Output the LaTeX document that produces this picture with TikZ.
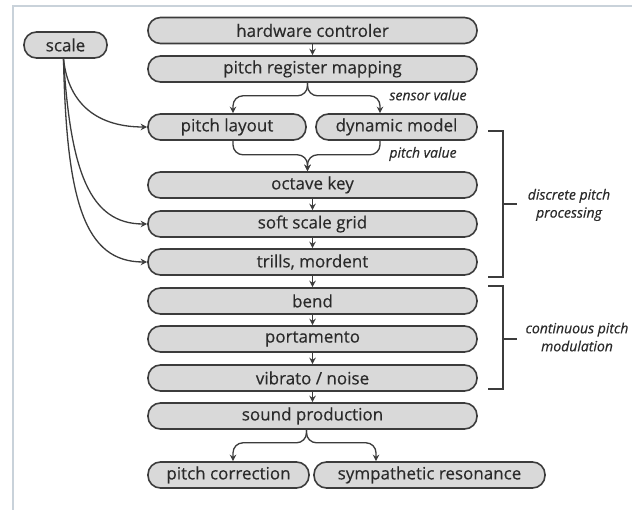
\documentclass[tikz,border=0pt]{standalone}
\usepackage{fontspec}
\setmainfont{Open Sans}
\newfontfamily\boxfont{Open Sans}[FakeBold=0.35]
\newfontfamily\labfont{Open Sans Italic}[FakeBold=0.25]
\usetikzlibrary{arrows.meta}
\definecolor{boxfill}{HTML}{D9D9D9}
\definecolor{boxline}{HTML}{3C3C3C}
\definecolor{txt}{HTML}{2A2A2A}
\definecolor{framec}{HTML}{C9D2DA}
\begin{document}
\begin{tikzpicture}[x=1pt,y=-1pt,
 box/.style={draw=boxline, fill=boxfill, line width=1.6pt, rounded corners=12.5pt, minimum height=26pt, inner sep=0pt, text=txt, font=\boxfont\fontsize{17}{18}\selectfont},
 wide/.style={box, minimum width=329pt},
 conn/.style={draw=boxline, line width=1.3pt, -{Stealth[length=6.5pt,width=6.5pt]}},
 lab/.style={text=txt, font=\labfont\fontsize{14}{18}\selectfont, align=center},
 brk/.style={draw=boxline, line width=1.6pt}]
\useasboundingbox[fill=white] (0,0) rectangle (632,510);
\draw[framec, line width=2pt] (632,6) -- (13,6) -- (13,510);

\node[wide] (hw) at (312.5,30.5) {hardware controler};
\node[wide] (prm) at (312.5,69) {pitch register mapping};
\node[box, minimum width=158pt] (pl) at (227,127) {pitch layout};
\node[box, minimum width=161pt] (dm) at (396.5,127) {dynamic model};
\node[wide] (ok) at (312.5,185) {octave key};
\node[wide] (ssg) at (312.5,224) {soft scale grid};
\node[wide] (tm) at (312.5,262) {trills, mordent};
\node[wide] (bend) at (312.5,301) {bend};
\node[wide] (port) at (312.5,339) {portamento};
\node[wide] (vib) at (312.5,378) {vibrato / noise};
\node[wide] (sp) at (312.5,416) {sound production};
\node[box, minimum width=161pt] (pc) at (228.5,475) {pitch correction};
\node[box, minimum width=231pt] (sr) at (429.5,475) {sympathetic resonance};
\node[box, minimum width=83pt] (sc) at (65.5,45) {scale};

\draw[conn] (hw.south) -- (prm.north);
\draw[conn, rounded corners=10pt] ([xshift=-5pt]prm.south) -- ++(0,13) -| ([xshift=6pt]pl.north);
\draw[conn, rounded corners=10pt] ([xshift=-5pt]prm.south) -- ++(0,13) -| ([xshift=-16.5pt]dm.north);
\draw[conn, rounded corners=10pt] ([xshift=6pt]pl.south) -- ++(0,14) -| ([xshift=-5pt]ok.north);
\draw[conn, rounded corners=10pt] ([xshift=-16.5pt]dm.south) -- ++(0,14) -| ([xshift=-5pt]ok.north);
\draw[conn] (ok.south) -- (ssg.north);
\draw[conn] (ssg.south) -- (tm.north);
\draw[conn] (tm.south) -- (bend.north);
\draw[conn] (bend.south) -- (port.north);
\draw[conn] (port.south) -- (vib.north);
\draw[conn] (vib.south) -- (sp.north);
\draw[conn, rounded corners=10pt] ([xshift=-6pt]sp.south) -- ++(0,13) -| ([xshift=4.5pt]pc.north);
\draw[conn, rounded corners=10pt] ([xshift=-6pt]sp.south) -- ++(0,13) -| ([xshift=-53.5pt]sr.north);

\draw[conn] ([xshift=-2pt]sc.south) .. controls +(5,47) and +(-48,0) .. (pl.west);
\draw[conn] ([xshift=-2pt]sc.south) .. controls +(7,112) and +(-58,0) .. (ssg.west);
\draw[conn] ([xshift=-2pt]sc.south) .. controls +(3,142) and +(-63,0) .. (tm.west);

\node[lab] (sv) at (428,95) {sensor value};
\node[lab] (pv) at (423,154) {pitch value};

\draw[brk] (488,131) -- (503,131) -- (503,277) -- (488,277);
\draw[brk] (503,204) -- (517,204);
\draw[brk] (488,286) -- (503,286) -- (503,389) -- (488,389);
\draw[brk] (503,339) -- (517,339);
\node[lab] (dpp) at (569,205) {discrete pitch\\processing};
\node[lab] (cpm) at (577,337) {continuous pitch\\modulation};
\end{tikzpicture}
\end{document}
